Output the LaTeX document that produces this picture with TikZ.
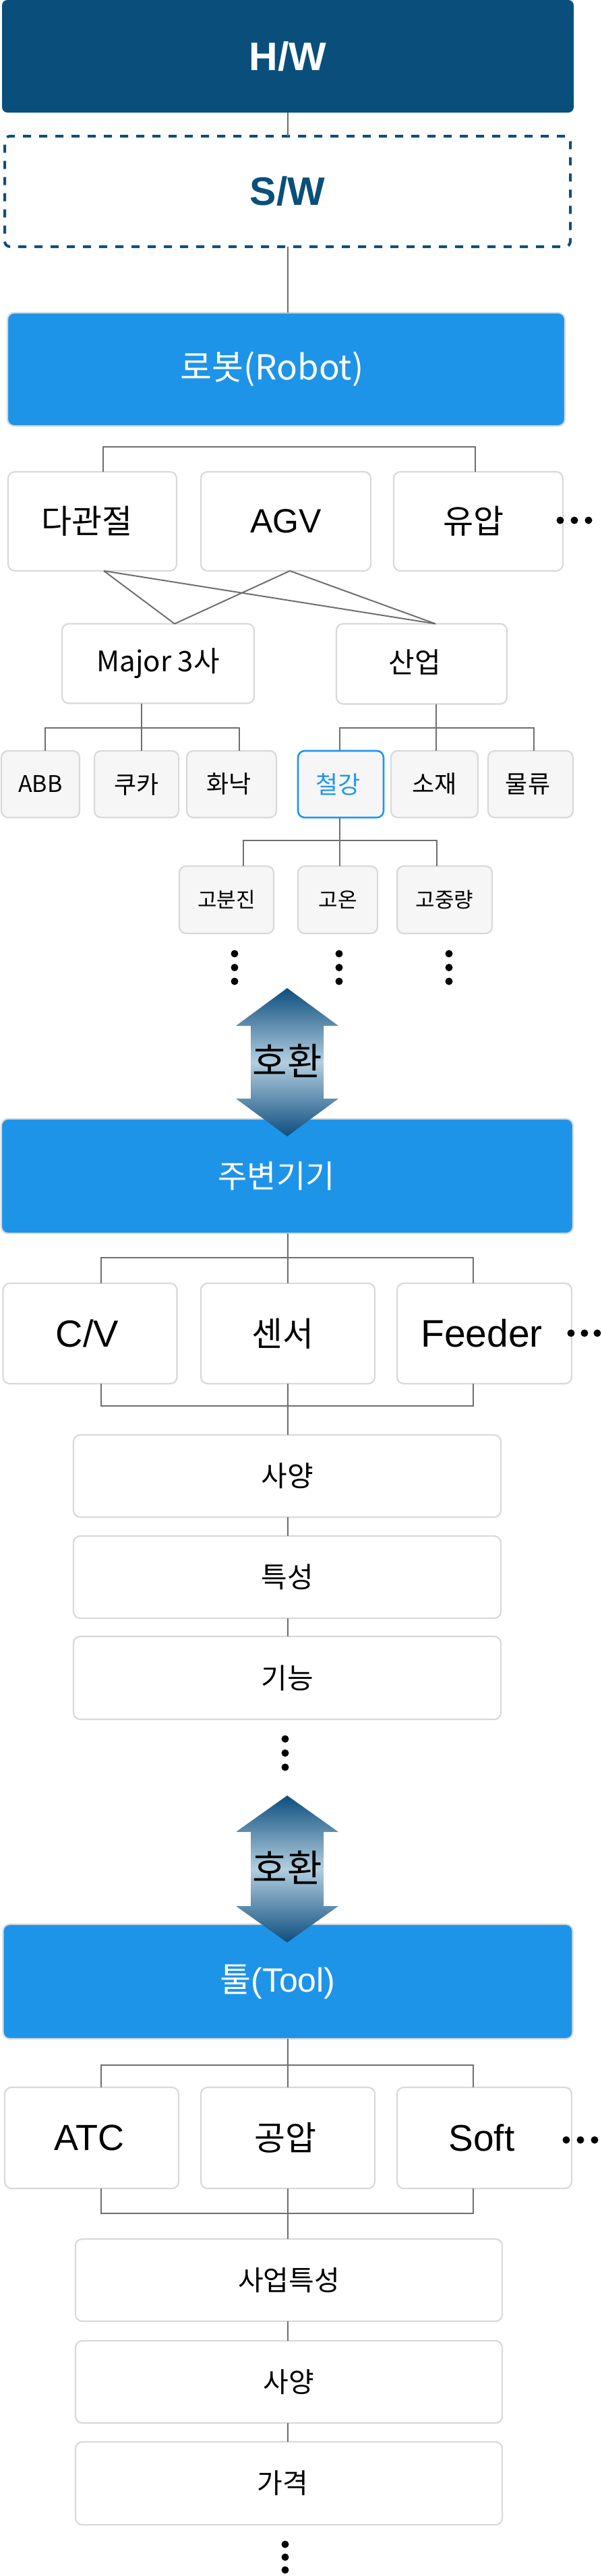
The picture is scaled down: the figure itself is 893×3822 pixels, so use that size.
\documentclass[tikz,border=0pt]{standalone}
\usepackage{fontspec}
\setmainfont{Noto Sans CJK KR}
\newfontfamily\lat{Liberation Sans}
\usetikzlibrary{calc}
\definecolor{hwblue}{HTML}{0A4F7B}
\definecolor{mainblue}{HTML}{1E94E9}
\definecolor{hiblue}{HTML}{2196F0}
\definecolor{bord}{HTML}{D9D9D9}
\definecolor{gfill}{HTML}{F6F6F6}
\definecolor{lgray}{HTML}{6E6E6E}
\definecolor{arrdark}{HTML}{0E4E7E}
\definecolor{arrlight}{HTML}{B3CEE0}
\newcommand\setfs[1]{\fontsize{#1}{#1}\selectfont}
% shift text left by #1 px (0.5pt per px)
\newcommand\lsh[1]{\hspace*{-#1pt}}
\tikzset{
  sz/.style 2 args={minimum width=#1*0.5pt, minimum height=#2*0.5pt},
  base/.style={rectangle, rounded corners=5pt, inner sep=0pt, outer sep=0pt, align=center, text=black},
  wbox/.style={base, draw=bord, line width=1.1pt, fill=white},
  gbox/.style={base, draw=bord, line width=1.1pt, fill=gfill},
  hibox/.style={base, draw=hiblue, line width=1.3pt, fill=gfill, text=hiblue},
  bbox/.style={base, draw=bord, line width=1.1pt, fill=mainblue, text=white},
  hwbox/.style={base, fill=hwblue, text=white, rounded corners=4pt},
  swbox/.style={base, draw=hwblue, line width=2pt, dash pattern=on 6pt off 6pt, fill=white, text=hwblue, rounded corners=4pt},
  conn/.style={draw=lgray, line width=1pt},
  bigarrow/.style={top color=arrdark, bottom color=arrdark, middle color=arrlight},
}
\begin{document}
\begin{tikzpicture}[x=0.5pt,y=-0.5pt]
\useasboundingbox (0,0) rectangle (893,3822);

% ---------- H/W, S/W ----------
\node[hwbox, sz={848}{167}, font=\lat\bfseries\setfs{29.5}] (hw) at (427,83.5) {H/W};
\node[swbox, sz={839}{164}, font=\lat\bfseries\setfs{29.5}] (sw) at (426.5,284) {S/W};
\draw[conn] (hw.south) -- (hw.south |- sw.north);

% ---------- Robot ----------
\node[bbox, sz={827}{168}, font=\setfs{25.5}] (robot) at (424.5,548) {\lsh{21}로봇(Robot)};
\draw[conn] (sw.south -| hw.south) -- (hw.south |- robot.north);

\node[wbox, sz={250}{147}, font=\setfs{24.5}] (dg) at (137,773.5) {\lsh{8}다관절};
\node[wbox, sz={252}{147}, font=\lat\setfs{25}] (agv) at (424,773.5) {AGV};
\node[wbox, sz={251}{147}, font=\setfs{24.5}] (yu) at (709.5,773.5) {\lsh{7}유압};
\foreach \x in {831,852,873} \fill (\x,772) circle (5.5);
\draw[conn] ($(dg.north)+(16,0)$) -- ++(0,-37) -| ($(yu.north)+(-4.5,0)$);

\node[wbox, sz={285}{118}, font=\setfs{21}] (mj) at (234.5,984.5) {Major 3사};
\node[wbox, sz={253}{119}, font=\setfs{21}] (si) at (625.5,985) {\lsh{10}\raisebox{3.5pt}{산업}};
\draw[conn] ($(dg.south)+(17,0)$) -- ($(mj.north)+(24.5,0)$);
\draw[conn] ($(dg.south)+(17,0)$) -- ($(si.north)+(20.5,0)$);
\draw[conn] ($(agv.south)+(6,0)$) -- ($(mj.north)+(24.5,0)$);
\draw[conn] ($(agv.south)+(6,0)$) -- ($(si.north)+(20.5,0)$);

% row 3
\node[gbox, sz={116}{99}, font=\setfs{17}] (abb) at (60,1163.5) {ABB};
\node[gbox, sz={125}{99}, font=\setfs{18}] (kk) at (202.5,1163.5) {쿠카};
\node[gbox, sz={133}{99}, font=\setfs{18}] (hn) at (343.5,1163.5) {\lsh{4}화낙};
\node[hibox, sz={127}{99}, font=\setfs{18}] (ch) at (505.5,1163.5) {\lsh{4}철강};
\node[gbox, sz={129}{99}, font=\setfs{18}] (sj) at (644.5,1163.5) {소재};
\node[gbox, sz={126}{99}, font=\setfs{18}] (mr) at (787,1163.5) {\lsh{4}물류};
\draw[conn] ($(mj.south)+(-24.5,0)$) -- ($(kk.north)+(7.5,0)$);
\draw[conn] ($(abb.north)+(7,0)$) -- ++(0,-34) -| ($(hn.north)+(11.5,0)$);
\draw[conn] ($(si.south)+(21.5,0)$) -- ($(sj.north)+(2.5,0)$);
\draw[conn] ($(ch.north)+(-1.5,0)$) -- ++(0,-34) -| ($(mr.north)+(5,0)$);

% row 4
\node[gbox, sz={140}{100}, font=\setfs{15.5}] (gb) at (336,1335) {고분진};
\node[gbox, sz={118}{100}, font=\setfs{15.5}] (go) at (501,1335) {고온};
\node[gbox, sz={141}{100}, font=\setfs{15.5}] (gj) at (659.5,1335) {고중량};
\draw[conn] ($(ch.south)+(-1.5,0)$) -- ($(go.north)+(3,0)$);
\draw[conn] ($(gb.north)+(25,0)$) -- ++(0,-38) -| ($(gj.north)+(-11.5,0)$);
\foreach \x in {348,503,666} \foreach \y in {1415,1435.5,1456} \fill (\x,\y) circle (5.5);

% ---------- 주변기기 ----------
\node[bbox, sz={848}{170}, font=\setfs{23.5}] (ju) at (426,1745) {\lsh{16}주변기기};
\shade[bigarrow] (426,1466) -- (502,1522) -- (480,1522) -- (480,1630) -- (502,1630) -- (426,1686)
  -- (350,1630) -- (372,1630) -- (372,1522) -- (350,1522) -- cycle;
\node[font=\setfs{28}] (hh1) at (426,1574) {호환};

\node[wbox, sz={258}{149}, font=\lat\setfs{28}] (cv) at (133.5,1978.5) {\lsh{4}C/V};
\node[wbox, sz={258}{149}, font=\setfs{25}] (ss) at (427,1978.5) {\lsh{8}센서};
\node[wbox, sz={259}{149}, font=\lat\setfs{28.5}] (fd) at (718.5,1978.5) {\lsh{4}Feeder};
\foreach \x in {847,867,886} \fill (\x,1978) circle (5.5);
\draw[conn] ($(ju.south)+(1,0)$) -- (ss.north);
\draw[conn] ($(cv.north)+(16.5,0)$) -- ++(0,-38) -| ($(fd.north)+(-16.5,0)$);
\draw[conn] ($(cv.south)+(16.5,0)$) -- ++(0,33) -| ($(fd.south)+(-16.5,0)$);

\node[wbox, sz={634}{122}, font=\setfs{21}] (sy) at (426,2190) {사양};
\node[wbox, sz={634}{122}, font=\setfs{21}] (ts) at (426,2340) {특성};
\node[wbox, sz={634}{123}, font=\setfs{21}] (gn) at (426,2489.5) {기능};
\draw[conn] (ss.south) -- (ss.south |- sy.north);
\draw[conn] ($(sy.south)+(1,0)$) -- ($(ts.north)+(1,0)$);
\draw[conn] ($(ts.south)+(1,0)$) -- ($(gn.north)+(1,0)$);
\foreach \y in {2580,2601,2622} \fill (423,\y) circle (5.5);

% ---------- 툴 ----------
\node[bbox, sz={845}{170}, font=\setfs{25}] (tl) at (427,2940) {\lsh{15}툴{\lat(Tool)}};
\shade[bigarrow] (426,2664) -- (502,2718) -- (480,2718) -- (480,2828) -- (502,2828) -- (426,2882)
  -- (350,2828) -- (372,2828) -- (372,2718) -- (350,2718) -- cycle;
\node[font=\setfs{28}] (hh2) at (426,2771) {호환};

\node[wbox, sz={258}{150}, font=\lat\setfs{27}] (atc) at (136,3172) {\lsh{4}ATC};
\node[wbox, sz={258}{150}, font=\setfs{25}] (gp) at (427,3172) {\lsh{4}공압};
\node[wbox, sz={259}{150}, font=\lat\setfs{27.5}] (so) at (718.5,3172) {\lsh{4}Soft};
\foreach \x in {840,861,882} \fill (\x,3175) circle (5.5);
\draw[conn] (tl.south) -- (tl.south |- gp.north);
\draw[conn] ($(atc.north)+(14,0)$) -- ++(0,-33) -| ($(so.north)+(-16.5,0)$);
\draw[conn] ($(atc.south)+(14,0)$) -- ++(0,37) -| ($(so.south)+(-16.5,0)$);

\node[wbox, sz={633}{122}, font=\setfs{20.5}] (sa) at (428.5,3383) {사업특성};
\node[wbox, sz={633}{122}, font=\setfs{20.5}] (sy2) at (428.5,3534) {사양};
\node[wbox, sz={633}{123}, font=\setfs{20.5}] (gg) at (428.5,3684.5) {\lsh{9}가격};
\draw[conn] (gp.south) -- (gp.south |- sa.north);
\draw[conn] ($(sa.south)+(-1.5,0)$) -- ($(sy2.north)+(-1.5,0)$);
\draw[conn] ($(sy2.south)+(-1.5,0)$) -- ($(gg.north)+(-1.5,0)$);
\foreach \y in {3775,3794,3813} \fill (423,\y) circle (5.5);
\end{tikzpicture}
\end{document}
